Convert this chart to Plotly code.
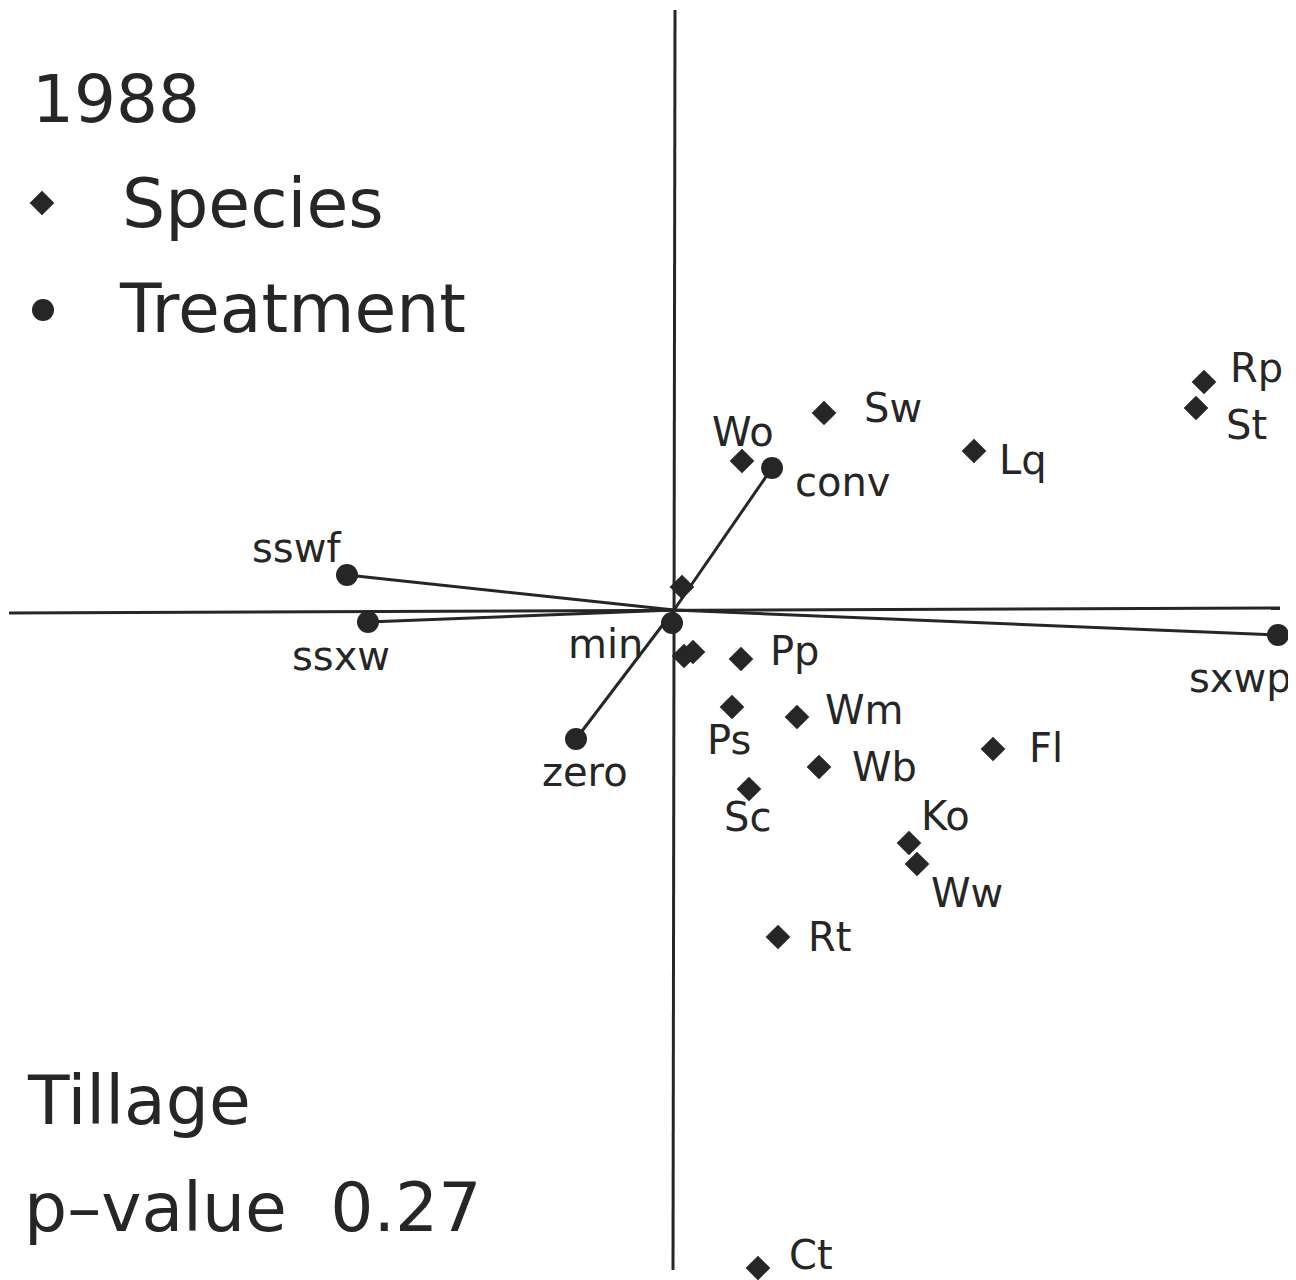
import plotly.graph_objects as go

# ---- data (ordination scores) ----
species_names = ["Rp", "St", "Sw", "Lq", "Wo", "", "", "", "Pp", "Ps", "Wm", "Fl", "Wb", "Sc", "Ko", "Ww", "Rt", "Ct"]
species_x = [5.30, 5.22, 1.50, 3.00, 0.68, 0.08, 0.10, 0.19, 0.67, 0.58, 1.23, 3.19, 1.45, 0.75, 2.35, 2.43, 1.04, 0.84]
species_y = [2.28, 2.02, 1.97, 1.59, 1.49, 0.23, -0.46, -0.42, -0.49, -0.97, -1.07, -1.39, -1.57, -1.79, -2.33, -2.54, -3.27, -6.58]

treat_names = ["conv", "sswf", "ssxw", "min", "zero", "sxwp"]
treat_x = [0.98, -3.27, -3.06, -0.02, -0.98, 6.04]
treat_y = [1.42, 0.35, -0.12, -0.13, -1.29, -0.25]

# axis reference lines
haxis_x = [-6.65, 6.06]
haxis_y = [-0.03, 0.02]
vaxis_x = [0.01, -0.01]
vaxis_y = [6.00, -6.60]

# ---- label offsets (pixels) ----
species_off = {
    "Rp": (24, 14), "St": (28, -17), "Sw": (38, 5), "Lq": (23, -9), "Wo": (-32, 29),
    "Pp": (27, 8), "Ps": (-27, -33), "Wm": (26, 7), "Fl": (34, 1), "Wb": (31, 0),
    "Sc": (-27, -28), "Ko": (10, 27), "Ww": (12, -29), "Rt": (28, 0), "Ct": (29, 13),
}
treat_off = {
    "conv": (21, -14), "sswf": (-97, 27), "ssxw": (-78, -34), "min": (-106, -21),
    "zero": (-36, -33), "sxwp": (-91, -43),
}

INK = "#262626"
FONT = "DejaVu Sans"
LW = 3

fig = go.Figure()

# axes
fig.add_trace(go.Scatter(x=haxis_x, y=haxis_y, mode="lines", line=dict(color=INK, width=LW), hoverinfo="skip"))
fig.add_trace(go.Scatter(x=vaxis_x, y=vaxis_y, mode="lines", line=dict(color=INK, width=LW), hoverinfo="skip"))

# treatment vectors
lx, ly = [], []
for tx, ty in zip(treat_x, treat_y):
    lx += [0, tx, None]
    ly += [0, ty, None]
fig.add_trace(go.Scatter(x=lx, y=ly, mode="lines", line=dict(color=INK, width=LW), hoverinfo="skip"))

# species
fig.add_trace(go.Scatter(x=species_x, y=species_y, mode="markers",
                         marker=dict(symbol="diamond", size=19, color=INK), hovertext=species_names))
# treatments
fig.add_trace(go.Scatter(x=treat_x, y=treat_y, mode="markers",
                         marker=dict(symbol="circle", size=22, color=INK), hovertext=treat_names))

annotations = []
for n, x, y in zip(species_names, species_x, species_y):
    if not n:
        continue
    dx, dy = species_off[n]
    annotations.append(dict(x=x, y=y, xref="x", yref="y", text=n, showarrow=False,
                            xanchor="left", yanchor="middle", xshift=dx, yshift=dy,
                            font=dict(family=FONT, size=40, color=INK)))
for n, x, y in zip(treat_names, treat_x, treat_y):
    dx, dy = treat_off[n]
    annotations.append(dict(x=x, y=y, xref="x", yref="y", text=n, showarrow=False,
                            xanchor="left", yanchor="middle", xshift=dx, yshift=dy,
                            font=dict(family=FONT, size=40, color=INK)))

# page has an 8px body margin: figure is drawn 8px right/down of the window origin
OFF = 8
W, H = 1296 - OFF, 1280 - OFF
def px(x, y):
    return (x - OFF) / W, 1 - (y - OFF) / H

big = [("1988", 30, 99, 66), ("Species", 120, 203, 68), ("Treatment", 117, 308, 68),
       ("Tillage", 25, 1100, 68), ("p–value  0.27", 22, 1207, 68)]
for t, x0, yc, s in big:
    xp, yp = px(x0, yc)
    annotations.append(dict(x=xp, y=yp, xref="paper", yref="paper", text=t, showarrow=False,
                            xanchor="left", yanchor="middle",
                            font=dict(family=FONT, size=s, color=INK)))

# legend symbols
lg = [px(42, 203), px(43, 310)]
fig.add_trace(go.Scatter(x=[lg[0][0]], y=[lg[0][1]], xaxis="x2", yaxis="y2", mode="markers",
                         marker=dict(symbol="diamond", size=19, color=INK), hoverinfo="skip"))
fig.add_trace(go.Scatter(x=[lg[1][0]], y=[lg[1][1]], xaxis="x2", yaxis="y2", mode="markers",
                         marker=dict(symbol="circle", size=22, color=INK), hoverinfo="skip"))

# data units: 100 px per unit, origin at window pixel (674, 610)
x_lo = (OFF - 674) / 100
x_hi = (1296 - 674) / 100
y_hi = (610 - OFF) / 100
y_lo = (610 - 1280) / 100

fig.update_layout(
    width=W, height=H, margin=dict(l=0, r=0, t=0, b=0),
    paper_bgcolor="white", plot_bgcolor="white", showlegend=False,
    xaxis=dict(range=[x_lo, x_hi], visible=False, domain=[0, 1]),
    yaxis=dict(range=[y_lo, y_hi], visible=False, domain=[0, 1]),
    xaxis2=dict(range=[0, 1], visible=False, overlaying="x", domain=[0, 1]),
    yaxis2=dict(range=[0, 1], visible=False, overlaying="y", domain=[0, 1]),
    annotations=annotations,
)

fig.write_html("out.html")
